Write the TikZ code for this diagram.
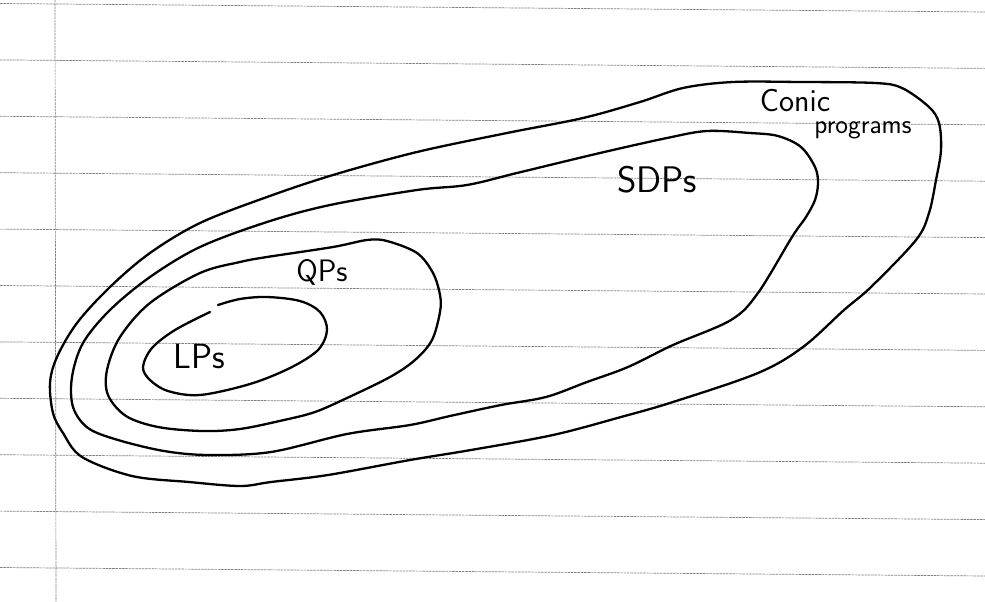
\documentclass[tikz,border=0pt]{standalone}
\usepackage{fontspec}
\begin{document}
\begin{tikzpicture}[x=1pt,y=-1pt]
\tikzset{
  ruleline/.style={draw=black!50,line width=0.7pt,dash pattern=on 2.5pt off 0.8pt},
  setborder/.style={draw=black,line width=2.3pt,line cap=round,line join=round},
  setlabel/.style={font=\sffamily,inner sep=0pt}
}
\useasboundingbox[fill=white] (0,0) rectangle (985,602);
\foreach \k in {0,...,10}
  \draw[ruleline] (0,{3.5+56.4*\k}) -- (985,{12+56.4*\k});
\draw[ruleline] (55,0) -- (56,602);
\draw[setborder] plot[smooth cycle,tension=0.55] coordinates {
  (50,383) (57,357) (77,323) (110,287) (150,253) (200,223) (267,197) (333,175)
  (417,152) (507,133) (583,118) (640,102) (683,88) (733,82) (801,82) (875,83)
  (902,88) (929,107) (939,123) (941,150) (936,180) (929,213) (916,240) (871,287)
  (844,310) (803,347) (758,373) (673,402) (621,417) (553,435) (471,450) (410,460)
  (328,475) (271,482) (240,486) (189,482) (132,476) (82,457) (63,433) (53,413)};
\draw[setborder] plot[smooth cycle,tension=0.55] coordinates {
  (72,377) (83,343) (110,310) (150,277) (200,247) (267,222) (330,205) (417,190)
  (467,185) (517,173) (600,153) (667,138) (707,131) (750,133) (778,136) (801,147)
  (815,167) (818,183) (815,200) (806,217) (792,237) (758,293) (731,320) (673,345)
  (628,367) (587,382) (546,397) (501,405) (450,416) (410,425) (347,434) (271,452)
  (208,455) (164,451) (118,440) (88,428) (73,407)};
\draw[setborder] plot[smooth cycle,tension=0.55] coordinates {
  (107,370) (120,337) (150,303) (200,273) (240,262) (267,257) (333,247) (367,240)
  (387,241) (417,253) (433,273) (440,295) (440,312) (432,340) (415,360) (390,377)
  (347,398) (315,412) (284,420) (240,429) (202,431) (158,427) (126,416) (108,395)};
\draw[setborder] plot[smooth,tension=0.55] coordinates {
  (218,305) (240,299) (267,297) (300,301) (320,312) (327,330) (318,350) (290,368)
  (250,384) (200,395) (168,391) (150,380) (143,367) (152,348) (175,330) (210,312)};
\node[setlabel,font=\sffamily\fontsize{32}{32}\selectfont] (conic) at (795,101) {Conic};
\node[setlabel,font=\sffamily\fontsize{27}{27}\selectfont] (programs) at (863,130) {programs};
\node[setlabel,font=\sffamily\fontsize{37}{37}\selectfont] (sdps) at (657,180) {SDPs};
\node[setlabel,font=\sffamily\fontsize{31}{31}\selectfont] (qps) at (322,272) {QPs};
\node[setlabel,font=\sffamily\fontsize{35}{35}\selectfont] (lps) at (199,356) {LPs};
\end{tikzpicture}
\end{document}
